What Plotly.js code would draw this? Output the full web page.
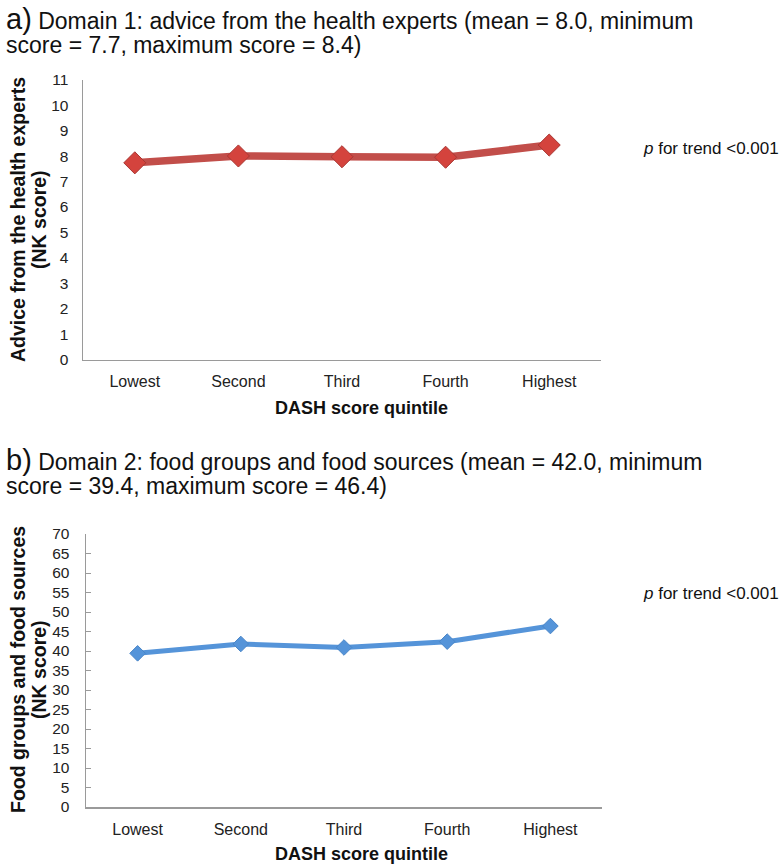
<!DOCTYPE html>
<html>
<head>
<meta charset="utf-8">
<script src="https://cdn.plot.ly/plotly-3.0.1.min.js"></script>
<style>html,body{margin:0;padding:0;background:#fff;}#chart{width:780px;height:867px;}</style>
</head>
<body>
<div id="chart"></div>
<script>
// Data
const quintiles = ["Lowest", "Second", "Third", "Fourth", "Highest"];
const domain1Scores = [7.74, 8.01, 7.98, 7.96, 8.44];
const domain2Scores = [39.4, 41.8, 40.9, 42.4, 46.4];
const yTicksA = [0,1,2,3,4,5,6,7,8,9,10,11];
const yTicksB = [0,5,10,15,20,25,30,35,40,45,50,55,60,65,70];
const titleA1 = "Domain 1: advice from the health experts (mean = 8.0, minimum";
const titleA2 = "score = 7.7, maximum score = 8.4)";
const titleB1 = "Domain 2: food groups and food sources (mean = 42.0, minimum";
const titleB2 = "score = 39.4, maximum score = 46.4)";
const yTitleA = ["Advice from the health experts", "(NK score)"];
const yTitleB = ["Food groups and food sources", "(NK score)"];
const xTitle = "DASH score quintile";
const trendText = "<i>p</i> for trend <0.001";

const H = 867, W = 780;
const px = v => v / W;
const py = v => (H - v) / H;

const red = "#C24E4A";
const blue = "#5594D9";
const font = "Liberation Sans, Arial, Helvetica, sans-serif";

const traces = [
  {x: quintiles, y: domain1Scores, xaxis: "x", yaxis: "y", mode: "lines+markers", type: "scatter",
   line: {color: red, width: 7.5}, marker: {symbol: "diamond", size: 17, color: "#D4433D", line: {color: "#A93733", width: 1}},
   hoverinfo: "skip", showlegend: false, cliponaxis: false},
  {x: quintiles, y: domain2Scores, xaxis: "x2", yaxis: "y2", mode: "lines+markers", type: "scatter",
   line: {color: blue, width: 5}, marker: {symbol: "diamond", size: 12, color: blue, line: {color: "#4A86C8", width: 1}},
   hoverinfo: "skip", showlegend: false, cliponaxis: false}
];

const axisCommon = {
  showgrid: false, zeroline: false, showline: true, linecolor: "#9a9a9a", linewidth: 1.5,
  tickfont: {family: font, size: 15.5, color: "#222"}, fixedrange: true
};

function txt(x, y, text, size, anchor, extra) {
  return Object.assign({xref: "paper", yref: "paper", x: px(x), y: py(y), xanchor: anchor || "left", yanchor: "middle",
    showarrow: false, text: text, font: {family: font, size: size, color: "#111"}}, extra || {});
}
const vbold = {textangle: -90, yanchor: "middle", xanchor: "center"};

const layout = {
  width: W, height: H,
  margin: {l: 0, r: 0, t: 0, b: 0},
  paper_bgcolor: "#fff", plot_bgcolor: "#fff",
  font: {family: font, color: "#111"},
  xaxis: Object.assign({}, axisCommon, {domain: [px(83), px(601)], anchor: "y", type: "category",
    ticks: "", ticklabelstandoff: 7, range: [-0.5, 4.5], tickfont: {family: font, size: 16, color: "#222"}}),
  yaxis: Object.assign({}, axisCommon, {domain: [py(359.5), py(80)], anchor: "x", range: [0, 11],
    tickvals: yTicksA, ticks: "", ticklabelstandoff: 10}),
  xaxis2: Object.assign({}, axisCommon, {domain: [px(86), px(602)], anchor: "y2", type: "category",
    ticks: "", ticklabelstandoff: 7, range: [-0.5, 4.5], tickfont: {family: font, size: 16, color: "#222"}}),
  yaxis2: Object.assign({}, axisCommon, {domain: [py(807), py(534)], anchor: "x2", range: [0, 70],
    tickvals: yTicksB, ticks: "inside", ticklen: 5, tickcolor: "#9a9a9a", ticklabelstandoff: 12}),
  annotations: [
    txt(4, 19, "<span style='font-size:29px'>a)</span> " + titleA1, 23),
    txt(4, 45, titleA2, 23),
    txt(4, 460, "<span style='font-size:29px'>b)</span> " + titleB1, 23),
    txt(4, 486, titleB2, 23),
    txt(18, 220, "<b>" + yTitleA[0] + "</b>", 19.5, "center", vbold),
    txt(39, 220, "<b>" + yTitleA[1] + "</b>", 19.5, "center", vbold),
    txt(18, 670, "<b>" + yTitleB[0] + "</b>", 19.5, "center", vbold),
    txt(39, 670, "<b>" + yTitleB[1] + "</b>", 19.5, "center", vbold),
    txt(361, 408, "<b>" + xTitle + "</b>", 18, "center"),
    txt(361, 854, "<b>" + xTitle + "</b>", 18, "center"),
    txt(641, 148, trendText, 17),
    txt(641, 593, trendText, 17)
  ]
};

Plotly.newPlot("chart", traces, layout, {staticPlot: true, displayModeBar: false});
</script>
</body>
</html>
